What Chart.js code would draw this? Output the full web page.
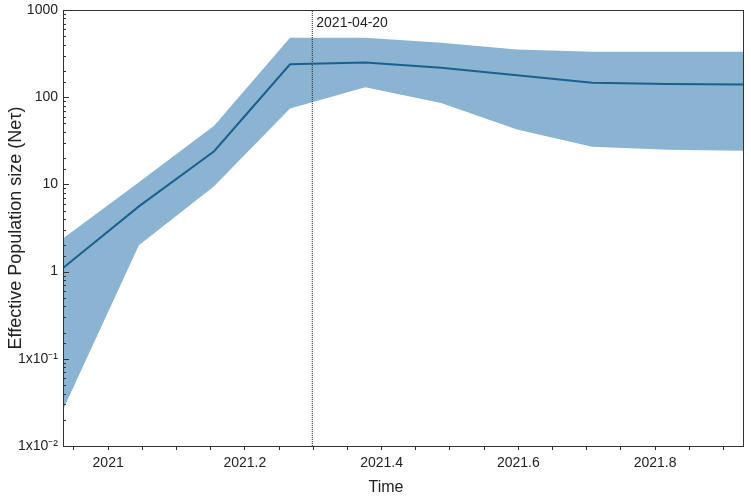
<!DOCTYPE html>
<html>
<head>
<meta charset="utf-8">
<script src="https://cdn.jsdelivr.net/npm/chart.js@4/dist/chart.umd.min.js"></script>
<style>
  html, body { margin: 0; padding: 0; background: #fff; }
  #wrap { width: 751px; height: 497px; }
</style>
</head>
<body>
<div id="wrap"><canvas id="skyline"></canvas></div>
<script>
// time grid of the skyline (decimal years)
const timePoints = [2020.934, 2021.045, 2021.155, 2021.266, 2021.376, 2021.487, 2021.598, 2021.708, 2021.819, 2021.929];
// median and 95% HPD of effective population size
const medianNe = [1.1, 5.6, 24, 238, 250, 218, 179, 146, 142, 140];
const upperNe = [2.4, 10.6, 47, 480, 480, 420, 353, 333, 333, 333];
const lowerNe = [0.026, 2.0, 9.5, 74, 130, 86, 42.5, 27, 25, 24.3];

const eventLabel = "2021-04-20";
const eventTime = 2021.2986;

const xTickLabels = ["2021", "2021.2", "2021.4", "2021.6", "2021.8"];
const yTickLabels = { "1000": "1000", "100": "100", "10": "10", "1": "1", "-1": "1x10⁻¹", "-2": "1x10⁻²" };
const xTitle = "Time";

const toPts = vals => vals.map((v, i) => ({ x: timePoints[i], y: v }));

const fontFam = "'Liberation Sans', Arial, Helvetica, sans-serif";

// box around plot, inward y ticks, event label and the x title
const framePlugin = {
    id: "frame",
    afterDraw(chart) {
        const ctx = chart.ctx;
        const a = chart.chartArea;
        const ys = chart.scales.y;
        const xs = chart.scales.x;
        ctx.save();
        ctx.strokeStyle = "#333";
        ctx.lineWidth = 1;
        ctx.strokeRect(a.left + 0.5, a.top + 0.5, a.right - a.left - 1, a.bottom - a.top);
        ys.ticks.forEach(t => {
            const py = Math.round(ys.getPixelForValue(t.value)) + 0.5;
            const lg = Math.log10(t.value);
            const major = Math.abs(lg - Math.round(lg)) < 1e-6;
            ctx.beginPath();
            ctx.moveTo(a.left, py);
            ctx.lineTo(a.left + (major ? 6 : 3), py);
            ctx.stroke();
        });
        ctx.fillStyle = "#222";
        ctx.font = "14px " + fontFam;
        ctx.textBaseline = "middle";
        ctx.fillText(eventLabel, xs.getPixelForValue(eventTime) + 4, a.top + 13);
        // axis title sits a bit left of the plot centre in the original
        ctx.font = "16px " + fontFam;
        ctx.textAlign = "center";
        ctx.textBaseline = "alphabetic";
        ctx.fillText(xTitle, 386, chart.height - 5);
        ctx.restore();
    }
};

// datasets draw last-to-first, so the median goes first to sit on top of the band
new Chart(document.getElementById("skyline"), {
    type: "line",
    data: {
        datasets: [
            {
                label: "median",
                data: toPts(medianNe),
                borderColor: "#1c5f8e",
                borderWidth: 2,
                pointRadius: 0,
                fill: false,
                tension: 0
            },
            {
                label: "event",
                data: [{ x: eventTime, y: 0.01 }, { x: eventTime, y: 1000 }],
                borderColor: "#222",
                borderWidth: 1,
                borderDash: [1, 1],
                pointRadius: 0,
                fill: false
            },
            {
                label: "lower",
                data: toPts(lowerNe),
                borderWidth: 0,
                pointRadius: 0,
                fill: false,
                tension: 0
            },
            {
                label: "upper",
                data: toPts(upperNe),
                borderWidth: 0,
                pointRadius: 0,
                backgroundColor: "#8ab4d1",
                fill: "-1",
                tension: 0
            }
        ]
    },
    options: {
        responsive: true,
        maintainAspectRatio: false,
        animation: false,
        layout: { padding: { top: 10, right: 7, left: 0, bottom: 0 } },
        plugins: { legend: { display: false }, tooltip: { enabled: false } },
        scales: {
            x: {
                type: "linear",
                min: 2020.934,
                max: 2021.93,
                grid: { drawOnChartArea: false, drawTicks: true, tickLength: 4, color: "#333" },
                border: { display: false },
                afterBuildTicks(scale) {
                    const ticks = [];
                    for (let k = 0; k <= 19; k++) {
                        const v = 2020.95 + k * 0.05;
                        if (v <= scale.max) ticks.push({ value: v });
                    }
                    scale.ticks = ticks;
                },
                ticks: {
                    autoSkip: false,
                    maxRotation: 0,
                    padding: 5,
                    color: "#222",
                    font: { family: fontFam, size: 14 },
                    callback(value) {
                        const idx = Math.round((value - 2021) / 0.2);
                        if (Math.abs(value - (2021 + idx * 0.2)) < 1e-6 && idx >= 0 && idx < xTickLabels.length) {
                            return xTickLabels[idx];
                        }
                        return "";
                    }
                },
                afterFit(scale) {
                    scale.height = 51;
                    scale.paddingLeft = 0;
                    scale.paddingRight = 0;
                }
            },
            y: {
                type: "logarithmic",
                min: 0.01,
                max: 1000,
                grid: { drawOnChartArea: false, drawTicks: false },
                border: { display: false },
                ticks: {
                    autoSkip: false,
                    padding: 5,
                    color: "#222",
                    font: { family: fontFam, size: 14 },
                    callback(value) {
                        const lg = Math.log10(value);
                        const r = Math.round(lg);
                        if (Math.abs(lg - r) < 1e-6) return yTickLabels[String(r >= 0 ? Math.pow(10, r) : r)];
                        return "";
                    }
                },
                title: {
                    display: true,
                    text: "Effective Population size (Neτ)",
                    color: "#222",
                    font: { family: fontFam, size: 18 },
                    padding: { top: 5, bottom: 0 }
                },
                afterFit(scale) {
                    scale.width = 63;
                    scale.paddingTop = 0;
                    scale.paddingBottom = 0;
                }
            }
        }
    },
    plugins: [framePlugin]
});
</script>
</body>
</html>
